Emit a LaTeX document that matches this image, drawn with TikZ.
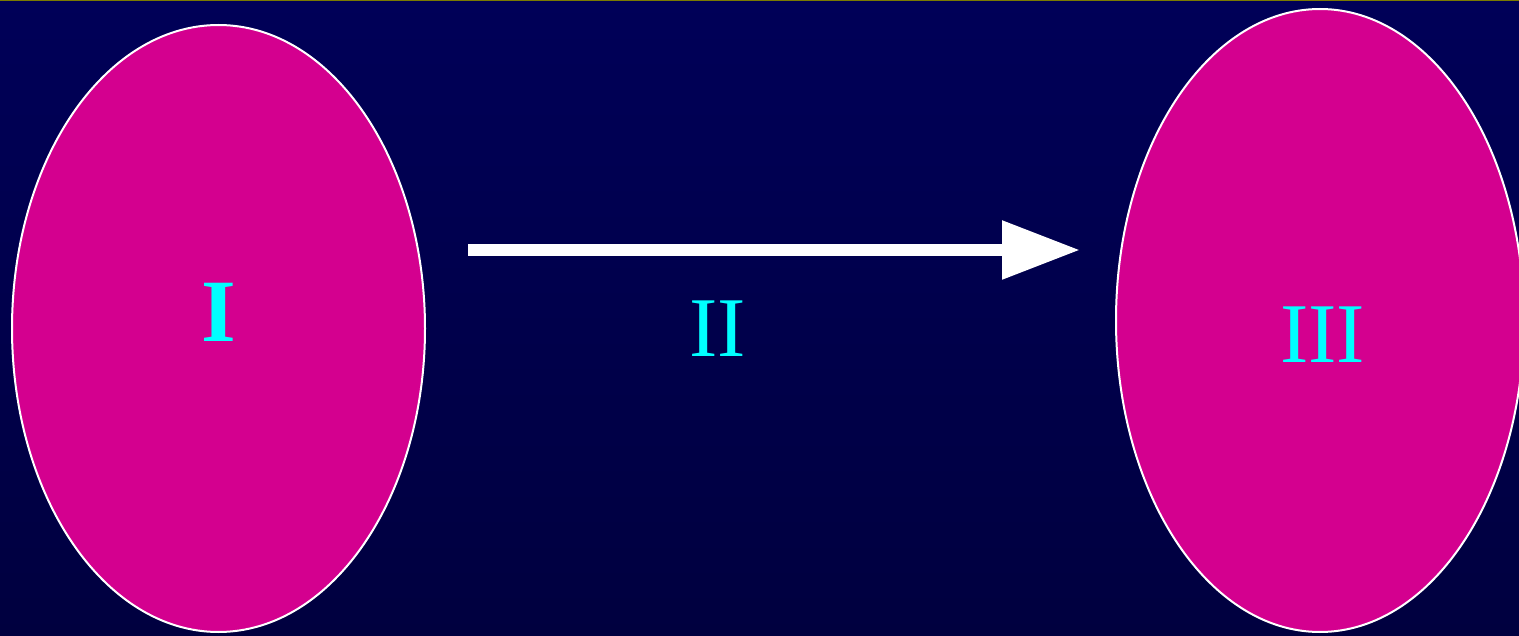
\documentclass[tikz,border=0pt]{standalone}
\usepackage{fontspec}
\setmainfont{Liberation Serif}
\usetikzlibrary{shapes.geometric,arrows.meta}
\definecolor{bgtop}{HTML}{000058}
\definecolor{bgbot}{HTML}{00003F}
\definecolor{topline}{HTML}{7A7A00}
\definecolor{blob}{HTML}{D4008F}
\definecolor{numcol}{HTML}{00FFFF}
\tikzset{
  blobshape/.style={ellipse, fill=blob, draw=white, line width=2pt, inner sep=0pt},
  numeral/.style={text=numcol, inner sep=0pt, font=\fontsize{85}{85}\selectfont},
  bignumeral/.style={numeral, font=\fontsize{89}{89}\selectfont\bfseries},
  flowarrow/.style={draw=white, line width=12pt, line cap=butt, -{Triangle[length=78pt,width=56pt]}}
}
\begin{document}
\begin{tikzpicture}[x=1pt,y=-1pt]
\useasboundingbox (0,0) rectangle (1519,636);
\clip (0,0) rectangle (1519,636);
\shade[top color=bgtop, bottom color=bgbot] (0,0) rectangle (1519,636);
\fill[topline] (0,0) rectangle (1519,1.5);
\node[blobshape, minimum width=413pt, minimum height=607pt] (e1) at (218.5,328.5) {};
\node[blobshape, minimum width=408pt, minimum height=623pt] (e3) at (1320,320.5) {};
\node[bignumeral] (t1) at (218.5,312.5) {I};
\node[numeral] (t2) at (717.5,329) {II};
\node[numeral] (t3) at (1322.5,334.5) {III};
\coordinate (as) at (468,250);
\coordinate (ae) at (1080,250);
\draw[flowarrow] (as) -- (ae);
\end{tikzpicture}
\end{document}
